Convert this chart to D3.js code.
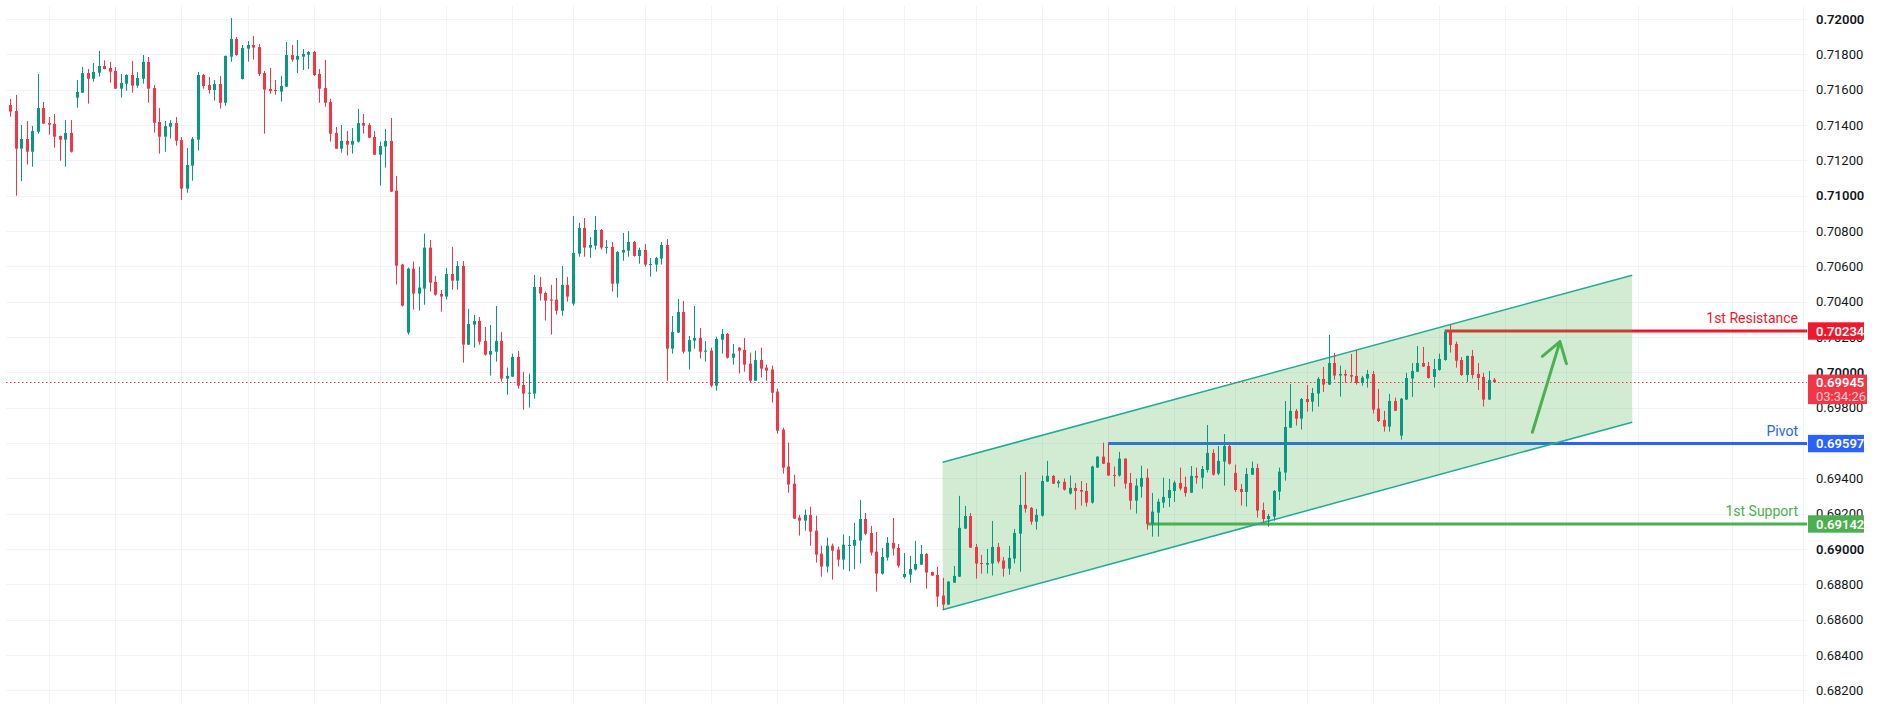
<!DOCTYPE html>
<html>
<head>
<meta charset="utf-8">
<script src="https://cdn.jsdelivr.net/npm/d3@7/dist/d3.min.js"></script>
<style>
  html, body { margin: 0; padding: 0; background: #ffffff; }
  svg { display: block; }
  text { font-family: Roboto, "Liberation Sans", sans-serif; }
</style>
</head>
<body>
<svg id="chart" width="1877" height="711"></svg>
<script>
// hourly candles
const opens = [
  0.71513,0.71479,0.71266,0.71321,0.71249,0.71362,0.71496,0.71411,0.71406,0.71338,
  0.71317,0.71355,0.71555,0.71583,0.71694,0.71662,0.71696,0.71734,0.71723,0.71706,
  0.71606,0.71634,0.71683,0.71623,0.71662,0.71757,0.71609,0.71417,0.71334,0.71391,
  0.71411,0.71315,0.71040,0.71170,0.71317,0.71683,0.71626,0.71598,0.71632,0.71526,
  0.71787,0.71887,0.71660,0.71832,0.71853,0.71841,0.71694,0.71604,0.71598,0.71589,
  0.71617,0.71796,0.71770,0.71787,0.71798,0.71813,0.71689,0.71609,0.71530,0.71355,
  0.71266,0.71310,0.71289,0.71306,0.71411,0.71400,0.71332,0.71232,0.71278,0.71310,
  0.71028,0.70610,0.70225,0.70587,0.70446,0.70474,0.70706,0.70512,0.70444,0.70429,
  0.70557,0.70519,0.70602,0.70157,0.70270,0.70291,0.70178,0.70100,0.70117,0.70178,
  0.69965,0.69976,0.70087,0.69929,0.69880,0.69880,0.70483,0.70449,0.70412,0.70412,
  0.70349,0.70495,0.70389,0.70672,0.70817,0.70706,0.70717,0.70806,0.70706,0.70710,
  0.70502,0.70678,0.70689,0.70738,0.70659,0.70693,0.70610,0.70610,0.70644,0.70721,
  0.70134,0.70225,0.70342,0.70117,0.70180,0.70195,0.70117,0.70123,0.69925,0.70185,
  0.70217,0.70083,0.70140,0.70127,0.70049,0.69953,0.70070,0.70027,0.70016,0.69891,
  0.69676,0.69467,0.69370,0.69178,0.69161,0.69193,0.69104,0.68974,0.68901,0.69019,
  0.68997,0.68940,0.69019,0.69019,0.69048,0.69170,0.69091,0.68985,0.68861,0.68952,
  0.69035,0.69006,0.68842,0.68855,0.68884,0.68912,0.68972,0.68870,0.68853,0.68737,
  0.68686,0.68810,0.68844,0.69116,0.69187,0.69012,0.68921,0.68912,0.68918,0.69012,
  0.68935,0.68889,0.68946,0.69087,0.69250,0.69233,0.69155,0.69189,0.69382,0.69414,
  0.69372,0.69380,0.69314,0.69346,0.69334,0.69329,0.69263,0.69461,0.69523,0.69489,
  0.69419,0.69416,0.69512,0.69374,0.69274,0.69353,0.69404,0.69142,0.69206,0.69263,
  0.69289,0.69329,0.69374,0.69352,0.69319,0.69414,0.69404,0.69448,0.69544,0.69427,
  0.69495,0.69583,0.69431,0.69340,0.69323,0.69421,0.69459,0.69221,0.69170,0.69184,
  0.69325,0.69433,0.69687,0.69782,0.69738,0.69849,0.69834,0.69880,0.69963,0.69931,
  0.70053,0.69982,0.69991,0.69985,0.69980,0.69940,0.69965,0.69991,0.69795,0.69731,
  0.69693,0.69838,0.69642,0.69846,0.69965,0.70004,0.70053,0.70036,0.69974,0.70014,
  0.70070,0.70229,0.70161,0.70070,0.69985,0.70093,0.69991,0.69974,0.69846,0.69959
];
const highs = [
  0.71547,0.71570,0.71400,0.71423,0.71394,0.71689,0.71530,0.71445,0.71462,0.71340,
  0.71428,0.71428,0.71655,0.71728,0.71717,0.71751,0.71819,0.71766,0.71757,0.71728,
  0.71689,0.71687,0.71762,0.71700,0.71796,0.71785,0.71626,0.71496,0.71423,0.71428,
  0.71445,0.71332,0.71270,0.71332,0.71700,0.71689,0.71672,0.71655,0.71677,0.71793,
  0.72006,0.71898,0.71853,0.71875,0.71904,0.71858,0.71706,0.71723,0.71655,0.71677,
  0.71870,0.71853,0.71881,0.71830,0.71819,0.71819,0.71717,0.71768,0.71549,0.71389,
  0.71400,0.71366,0.71383,0.71491,0.71462,0.71411,0.71366,0.71306,0.71378,0.71440,
  0.71112,0.70615,0.70593,0.70627,0.70598,0.70785,0.70749,0.70546,0.70466,0.70591,
  0.70710,0.70630,0.70630,0.70359,0.70325,0.70314,0.70257,0.70268,0.70376,0.70229,
  0.70027,0.70106,0.70121,0.70004,0.69993,0.70551,0.70540,0.70457,0.70495,0.70534,
  0.70602,0.70540,0.70885,0.70846,0.70874,0.70766,0.70885,0.70812,0.70749,0.70738,
  0.70687,0.70789,0.70800,0.70744,0.70706,0.70727,0.70647,0.70653,0.70738,0.70755,
  0.70319,0.70415,0.70404,0.70206,0.70376,0.70251,0.70178,0.70140,0.70202,0.70246,
  0.70223,0.70161,0.70142,0.70195,0.70112,0.70123,0.70140,0.70044,0.70038,0.69908,
  0.69687,0.69602,0.69421,0.69193,0.69223,0.69240,0.69189,0.69019,0.69065,0.69031,
  0.69014,0.69082,0.69074,0.69148,0.69278,0.69204,0.69131,0.69097,0.69006,0.69068,
  0.69176,0.69029,0.68978,0.68961,0.69046,0.69023,0.68978,0.68872,0.68899,0.68837,
  0.68818,0.68904,0.69301,0.69244,0.69204,0.69029,0.68967,0.69001,0.69159,0.69035,
  0.68955,0.69018,0.69114,0.69419,0.69436,0.69238,0.69227,0.69416,0.69499,0.69419,
  0.69391,0.69399,0.69416,0.69374,0.69385,0.69374,0.69472,0.69525,0.69602,0.69599,
  0.69467,0.69550,0.69514,0.69431,0.69399,0.69472,0.69455,0.69317,0.69285,0.69404,
  0.69397,0.69387,0.69461,0.69410,0.69470,0.69461,0.69470,0.69702,0.69565,0.69583,
  0.69651,0.69597,0.69478,0.69368,0.69459,0.69495,0.69483,0.69263,0.69199,0.69334,
  0.69461,0.69838,0.69934,0.69793,0.69855,0.69929,0.69912,0.69974,0.70031,0.70212,
  0.70110,0.70038,0.70014,0.70104,0.70127,0.69980,0.70014,0.70008,0.69906,0.69782,
  0.69878,0.69857,0.69855,0.69997,0.70053,0.70149,0.70144,0.70059,0.70076,0.70106,
  0.70240,0.70268,0.70174,0.70087,0.70095,0.70127,0.70053,0.69997,0.70008,0.69968
];
const lows = [
  0.71447,0.71000,0.71083,0.71176,0.71164,0.71351,0.71406,0.71345,0.71272,0.71198,
  0.71164,0.71244,0.71498,0.71581,0.71521,0.71645,0.71674,0.71715,0.71640,0.71604,
  0.71555,0.71594,0.71583,0.71611,0.71634,0.71526,0.71357,0.71238,0.71249,0.71323,
  0.71283,0.70976,0.71017,0.71085,0.71255,0.71606,0.71577,0.71538,0.71493,0.71509,
  0.71758,0.71792,0.71658,0.71758,0.71770,0.71677,0.71351,0.71577,0.71572,0.71532,
  0.71615,0.71758,0.71694,0.71711,0.71717,0.71677,0.71526,0.71504,0.71306,0.71264,
  0.71244,0.71227,0.71238,0.71300,0.71351,0.71326,0.71230,0.71057,0.71159,0.71021,
  0.70497,0.70372,0.70214,0.70355,0.70349,0.70383,0.70457,0.70434,0.70344,0.70412,
  0.70468,0.70468,0.70055,0.70155,0.70140,0.70157,0.70095,0.69982,0.70061,0.69948,
  0.69874,0.69974,0.69908,0.69789,0.69801,0.69851,0.70406,0.70293,0.70214,0.70327,
  0.70321,0.70400,0.70378,0.70655,0.70655,0.70649,0.70695,0.70695,0.70672,0.70457,
  0.70423,0.70632,0.70655,0.70655,0.70615,0.70598,0.70542,0.70570,0.70610,0.69953,
  0.70106,0.70223,0.70106,0.70016,0.70134,0.70078,0.70061,0.69916,0.69897,0.70106,
  0.70078,0.70044,0.69993,0.70004,0.69942,0.69951,0.69970,0.69953,0.69829,0.69653,
  0.69427,0.69319,0.69170,0.69076,0.69104,0.69019,0.68923,0.68844,0.68867,0.68827,
  0.68901,0.68884,0.68874,0.68886,0.68918,0.69078,0.68963,0.68759,0.68855,0.68935,
  0.68963,0.68895,0.68833,0.68810,0.68878,0.68910,0.68776,0.68848,0.68674,0.68657,
  0.68684,0.68808,0.68842,0.69114,0.69006,0.68833,0.68861,0.68861,0.68850,0.68918,
  0.68844,0.68855,0.68918,0.68872,0.69206,0.69138,0.69110,0.69184,0.69380,0.69368,
  0.69348,0.69331,0.69308,0.69223,0.69246,0.69240,0.69257,0.69459,0.69481,0.69414,
  0.69353,0.69410,0.69342,0.69223,0.69201,0.69291,0.69110,0.69070,0.69070,0.69233,
  0.69238,0.69267,0.69331,0.69297,0.69317,0.69370,0.69342,0.69433,0.69416,0.69419,
  0.69359,0.69478,0.69323,0.69246,0.69240,0.69419,0.69178,0.69150,0.69127,0.69161,
  0.69278,0.69387,0.69685,0.69699,0.69676,0.69778,0.69778,0.69806,0.69889,0.69929,
  0.69959,0.69863,0.69942,0.69946,0.69931,0.69925,0.69914,0.69767,0.69719,0.69665,
  0.69665,0.69781,0.69619,0.69844,0.69861,0.70002,0.70031,0.69965,0.69914,0.70010,
  0.70066,0.70112,0.70027,0.69980,0.69946,0.69965,0.69900,0.69806,0.69844,0.69943
];
const closes = [
  0.71476,0.71266,0.71321,0.71249,0.71366,0.71496,0.71408,0.71402,0.71334,0.71317,
  0.71355,0.71249,0.71587,0.71694,0.71662,0.71700,0.71734,0.71717,0.71702,0.71606,
  0.71638,0.71683,0.71623,0.71666,0.71757,0.71606,0.71413,0.71334,0.71394,0.71411,
  0.71311,0.71040,0.71174,0.71321,0.71683,0.71621,0.71598,0.71632,0.71526,0.71791,
  0.71887,0.71796,0.71836,0.71853,0.71838,0.71689,0.71600,0.71592,0.71592,0.71621,
  0.71796,0.71770,0.71791,0.71802,0.71813,0.71683,0.71606,0.71526,0.71351,0.71266,
  0.71310,0.71289,0.71310,0.71411,0.71396,0.71328,0.71232,0.71281,0.71310,0.71023,
  0.70604,0.70378,0.70587,0.70446,0.70480,0.70706,0.70508,0.70440,0.70429,0.70557,
  0.70519,0.70602,0.70157,0.70274,0.70291,0.70174,0.70100,0.70121,0.70178,0.69965,
  0.69980,0.70087,0.69925,0.69880,0.69885,0.70483,0.70446,0.70406,0.70406,0.70349,
  0.70495,0.70429,0.70676,0.70817,0.70706,0.70721,0.70806,0.70706,0.70710,0.70502,
  0.70681,0.70693,0.70738,0.70659,0.70693,0.70610,0.70613,0.70647,0.70721,0.70134,
  0.70229,0.70342,0.70117,0.70183,0.70195,0.70117,0.70123,0.69925,0.70189,0.70217,
  0.70083,0.70106,0.70123,0.70044,0.69953,0.70070,0.70021,0.70010,0.69885,0.69670,
  0.69461,0.69365,0.69172,0.69161,0.69193,0.69099,0.68969,0.68901,0.69019,0.68991,
  0.68940,0.69025,0.69023,0.69052,0.69170,0.69087,0.68980,0.68861,0.68955,0.69035,
  0.69003,0.68906,0.68859,0.68887,0.68916,0.68972,0.68867,0.68850,0.68731,0.68686,
  0.68816,0.68848,0.69120,0.69187,0.69008,0.68918,0.68918,0.68921,0.69012,0.68929,
  0.68889,0.68950,0.69091,0.69250,0.69229,0.69155,0.69193,0.69385,0.69414,0.69370,
  0.69382,0.69336,0.69346,0.69329,0.69325,0.69263,0.69467,0.69523,0.69483,0.69416,
  0.69416,0.69512,0.69370,0.69274,0.69359,0.69402,0.69142,0.69212,0.69268,0.69295,
  0.69334,0.69376,0.69342,0.69317,0.69414,0.69404,0.69453,0.69544,0.69421,0.69499,
  0.69583,0.69483,0.69334,0.69323,0.69425,0.69459,0.69218,0.69170,0.69187,0.69329,
  0.69438,0.69691,0.69782,0.69738,0.69849,0.69832,0.69883,0.69963,0.69931,0.70053,
  0.69982,0.69991,0.69982,0.69976,0.69940,0.69970,0.69991,0.69789,0.69725,0.69693,
  0.69838,0.69783,0.69851,0.69968,0.70008,0.70053,0.70033,0.69968,0.70019,0.70076,
  0.70229,0.70155,0.70066,0.69985,0.70093,0.69985,0.69968,0.69846,0.69957,0.69945
];

// price axis ticks
const priceTicks = [0.682,0.684,0.686,0.688,0.690,0.692,0.694,0.696,0.698,0.700,
                    0.702,0.704,0.706,0.708,0.710,0.712,0.714,0.716,0.718,0.720];
// candle indexes where the time grid lines fall
const timeGridIdx = [7,19,31,43,55,67,79,91,102,115,127,139,151,162,175,187,199,211,
                     222,235,247,259,271,282,295,312,325];

const lastPrice = 0.69945;
const countdown = "03:34:26";

// key levels
const levelNames  = ["1st Resistance", "Pivot", "1st Support"];
const levelValues = [0.70234, 0.69597, 0.69142];
const levelStart  = [260, 199, 206];

// rising channel (candle index, price)
const channelIdx   = [169, 294];
const channelUpper = [0.69491, 0.70550];
const channelLower = [0.68657, 0.69718];

// arrow (candle index, price)
const arrowIdx   = [275.9, 280.9];
const arrowPrice = [0.69661, 0.70174];

const colors = {
  up: "#089981", down: "#F23645", grid: "#F0F3FA", text: "#131722",
  levels: ["#F0192C", "#2962FF", "#4CAF50"],
  channelFill: "rgba(76,175,80,0.25)", channelLine: "#22AB94", arrow: "#4CAF50"
};

const svg = d3.select("#chart");
const W = +svg.attr("width"), H = +svg.attr("height");
const plot = { left: 6, right: 1807, top: 6, bottom: 703 };

svg.append("rect").attr("width", W).attr("height", H).attr("fill", "#fff");

const x = d3.scaleLinear().domain([0, 269]).range([10.3, 1494.3]);
const y = d3.scaleLinear().domain([0.682, 0.720]).range([690.4, 19]);
const fmt = d3.format(".5f");
const crisp = v => Math.round(v) + 0.5;

const candles = opens.map((o, i) => ({ i, o, h: highs[i], l: lows[i], c: closes[i] }));

// grid
const grid = svg.append("g").attr("class", "grid");
grid.selectAll("line.h").data(priceTicks).join("line").attr("class", "h")
  .attr("x1", plot.left).attr("x2", plot.right)
  .attr("y1", d => crisp(y(d))).attr("y2", d => crisp(y(d)))
  .attr("stroke", colors.grid).attr("stroke-width", 1);
grid.selectAll("line.v").data(timeGridIdx).join("line").attr("class", "v")
  .attr("x1", d => crisp(x(d))).attr("x2", d => crisp(x(d)))
  .attr("y1", plot.top).attr("y2", plot.bottom)
  .attr("stroke", colors.grid).attr("stroke-width", 1);

// level lines (under the channel fill)
const levels = levelValues.map((v, k) => ({ v, name: levelNames[k], start: levelStart[k], color: colors.levels[k] }));
svg.append("g").selectAll("line").data(levels).join("line")
  .attr("x1", d => x(d.start)).attr("x2", plot.right)
  .attr("y1", d => y(d.v)).attr("y2", d => y(d.v))
  .attr("stroke", d => d.color).attr("stroke-width", 3);

// channel
const chan = svg.append("g");
const poly = [
  [x(channelIdx[0]), y(channelUpper[0])], [x(channelIdx[1]), y(channelUpper[1])],
  [x(channelIdx[1]), y(channelLower[1])], [x(channelIdx[0]), y(channelLower[0])]
];
chan.append("path").attr("d", d3.line()(poly) + "Z").attr("fill", colors.channelFill);
[channelUpper, channelLower].forEach(edge => {
  chan.append("line")
    .attr("x1", x(channelIdx[0])).attr("y1", y(edge[0]))
    .attr("x2", x(channelIdx[1])).attr("y2", y(edge[1]))
    .attr("stroke", colors.channelLine).attr("stroke-width", 1.5);
});

// last price dotted line
svg.append("line")
  .attr("x1", plot.left).attr("x2", plot.right)
  .attr("y1", crisp(y(lastPrice))).attr("y2", crisp(y(lastPrice)))
  .attr("stroke", colors.down).attr("stroke-width", 1).attr("stroke-dasharray", "1.5,2.5");

// candles
const cg = svg.append("g").attr("class", "candles");
cg.selectAll("line").data(candles).join("line")
  .attr("x1", d => Math.round(x(d.i)) + 0.5).attr("x2", d => Math.round(x(d.i)) + 0.5)
  .attr("y1", d => y(d.h)).attr("y2", d => y(d.l))
  .attr("stroke", d => d.c >= d.o ? colors.up : colors.down).attr("stroke-width", 1);
cg.selectAll("rect").data(candles).join("rect")
  .attr("x", d => Math.round(x(d.i)) - 1)
  .attr("width", 3)
  .attr("y", d => y(Math.max(d.o, d.c)))
  .attr("height", d => Math.max(1, Math.abs(y(d.o) - y(d.c))))
  .attr("fill", d => d.c >= d.o ? colors.up : colors.down);

// arrow
const ax0 = x(arrowIdx[0]), ay0 = y(arrowPrice[0]), ax1 = x(arrowIdx[1]), ay1 = y(arrowPrice[1]);
const ang = Math.atan2(ay1 - ay0, ax1 - ax0);
const wing = 23, spread = 0.58;
const w1 = [ax1 - wing * Math.cos(ang - spread), ay1 - wing * Math.sin(ang - spread)];
const w2 = [ax1 - wing * Math.cos(ang + spread), ay1 - wing * Math.sin(ang + spread)];
svg.append("path")
  .attr("d", `M${ax0},${ay0}L${ax1},${ay1}M${w1[0]},${w1[1]}L${ax1},${ay1}L${w2[0]},${w2[1]}`)
  .attr("fill", "none").attr("stroke", colors.arrow).attr("stroke-width", 3)
  .attr("stroke-linecap", "round").attr("stroke-linejoin", "round");

// level names
svg.append("g").selectAll("text").data(levels).join("text")
  .attr("x", 1798).attr("y", d => y(d.v) - 8)
  .attr("text-anchor", "end").attr("font-size", 14)
  .attr("fill", d => d.color).text(d => d.name);

// price axis labels (a label fully covered by a level box is not drawn)
const shownTicks = priceTicks.filter(t => !levelValues.some(v => Math.abs(y(t) - y(v)) < 4));
svg.append("g").selectAll("text").data(shownTicks).join("text")
  .attr("x", 1816).attr("y", d => y(d)).attr("dy", "0.35em")
  .attr("font-size", 13).attr("fill", colors.text)
  .attr("font-weight", d => Math.abs(d * 100 - Math.round(d * 100)) < 1e-6 ? 600 : 400)
  .text(d => fmt(d));

// level boxes on the axis
const boxes = svg.append("g");
levels.forEach(d => {
  boxes.append("rect").attr("x", 1808).attr("y", y(d.v) - 8.7)
    .attr("width", 56).attr("height", 17.4).attr("fill", d.color);
  boxes.append("text").attr("x", 1816).attr("y", y(d.v)).attr("dy", "0.35em")
    .attr("font-size", 13).attr("font-weight", 600).attr("fill", "#fff").text(fmt(d.v));
});

// last price box
const ly = y(lastPrice);
boxes.append("rect").attr("x", 1808).attr("y", ly - 7.5)
  .attr("width", 59).attr("height", 29.5).attr("fill", colors.down);
boxes.append("text").attr("x", 1816).attr("y", ly + 0.6).attr("dy", "0.35em")
  .attr("font-size", 13).attr("font-weight", 600).attr("fill", "#fff").text(fmt(lastPrice));
boxes.append("text").attr("x", 1816).attr("y", ly + 14.6).attr("dy", "0.35em")
  .attr("font-size", 13).attr("fill", "rgba(255,255,255,0.75)").text(countdown);
</script>
</body>
</html>
